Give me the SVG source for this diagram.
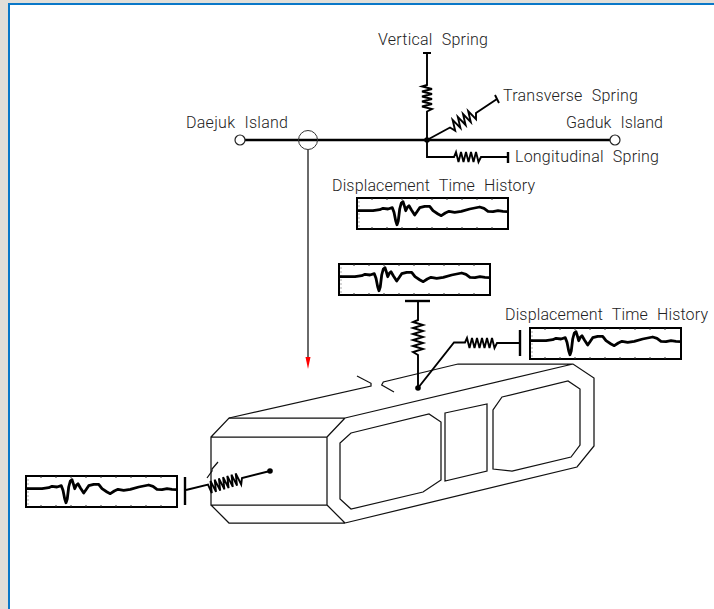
<svg xmlns="http://www.w3.org/2000/svg" width="714" height="609" viewBox="0 0 714 609">
<style>
text{font-family:"Roboto","Liberation Sans",Arial,sans-serif;font-size:16px;fill:#222;font-weight:300;word-spacing:5px}
.t{fill:none;stroke:#111;stroke-width:1.25;stroke-linejoin:miter}
.h{fill:none;stroke:#000;stroke-width:2.4;stroke-linejoin:miter}
.s{fill:none;stroke:#000;stroke-width:1.9;stroke-linejoin:miter}
.w{fill:none;stroke:#000;stroke-width:2.8;stroke-linejoin:round}
.o{fill:#fff;stroke:#222;stroke-width:1.2}
</style>
<defs>
<g id="plot">
<rect x="0" y="0" width="151" height="31" fill="#fff" stroke="#000" stroke-width="2"/>
<path d="M15,0v2M30,0v2M45,0v2M60,0v2M75,0v2M90,0v2M105,0v2M120,0v2M135,0v2M15,31v-2M30,31v-2M45,31v-2M60,31v-2M75,31v-2M90,31v-2M105,31v-2M120,31v-2M135,31v-2" stroke="#333" stroke-width="1" fill="none"/>
<path d="M1.500,4h1M1.500,8h1M1.500,12h1M1.500,16h1M1.500,20h1M1.500,24h1M1.500,28h1" stroke="#555" stroke-width="1" fill="none"/>
<path class="w" d="M0,12.700L16,12.700L22.700,11.700L26,10.300L31,11L35.300,9.700L37,14.300L38.700,22.700L40,26.700L41.300,22.700L42.700,11L44.300,5L46,3.700L47.300,7.700L48.700,12.700L50.300,9.300L52,7.700L54.300,11.700L57.700,17L60,13.700L62.700,9.700L67.700,8.300L72.700,8.300L76,12.700L81,16L84.300,17.700L88.300,15L92,13.300L97.700,14.300L104.300,13.300L112.700,11L122.700,9L127,10.300L131,13.300L136,13.700L141,12.700L146,13.300L151,13.700"/>
</g>
</defs>
<rect x="0" y="0" width="714" height="609" fill="#fff"/>
<rect x="0" y="0" width="8" height="609" fill="#e2dfd9"/>
<rect x="0" y="0" width="714" height="3" fill="#e2dfd9"/>
<rect x="8" y="3" width="2" height="606" fill="#0a78c8"/>
<rect x="8" y="3" width="706" height="2" fill="#0a78c8"/>

<g id="bridge-girder">
<path class="t" d="M211,437H327V505H211ZM211,437L229,418H345M327,437L345,418M211,505L229,523H345M327,505L345,523"/>
<path class="t" d="M229,418L371,386V383.300L357,376M394,392L381.700,385L383.300,382L458,364H573L594,378V446L577,467L345,523M573,364L345,418"/>
<path class="t" d="M351,433L429,414L441,422V480L423,492L351,509L340,499V443Z"/>
<path class="t" d="M445,413L487,404V471L445,481Z"/>
<path class="t" d="M502,397L568,381L580,389V445L571,457L512,471L493,469V410Z"/>
</g>

<g id="connectors">
<path class="h" d="M245,140H610"/>
<path class="t" d="M308,150V358"/>
<path d="M305.500,357H310.500L308,369Z" fill="#f00"/>
<path class="s" d="M423,53H431M427,53V85L422,86.500L432,89L422,91.500L432,94L422,96.500L432,99L422,101.500L432,104L422,106.500L432,109L427,111.500V140"/>
<path class="s" d="M427,140L450,127.500L455.200,130.800L452.600,119.800L460.400,127.900L457.800,116.900L465.600,125L463,114L470.800,122.100L468.200,111.100L476,119.200L476,113L497,99M495,95L499,103"/>
<path class="s" d="M427,140V157H454L456,152L458.500,162L461,152L463.500,162L466,152L468.500,162L471,152L473.500,162L476,152L478.500,162L481,157H508"/>
<path class="h" d="M508,152V163"/>
<path class="h" d="M405,301H430"/>
<path class="s" d="M418,301V320L413,322L423,325L413,328L423,331L413,334L423,337L413,340L423,343L413,346L423,349L413,352L418,355V388"/>
<path class="s" d="M418,388L454,342.500H465L467,338L469.500,348L472,338L474.500,348L477,338L479.500,348L482,338L484.500,348L487,338L489.500,348L492,338L494.500,348L497,343H520"/>
<path class="h" d="M520,330V356"/>
<path class="h" d="M185,477V505"/>
<path class="s" d="M186,490L208,484.500L211.800,493.200L210.500,480.900L216,491.900L214.700,479.700L220.200,490.700L218.900,478.400L224.400,489.400L223.100,477.200L228.600,488.100L227.300,475.900L232.800,486.900L231.500,474.600L237,485.600L235.700,473.400L241.200,484.400L242,478L270,471"/>
<path class="t" d="M207,478L212,471L212,469L218,462"/>
</g>

<g id="dots">
<circle cx="427" cy="140" r="2.800" fill="#000"/>
<circle cx="418" cy="388" r="2.800" fill="#000"/>
<circle cx="270" cy="471" r="2.800" fill="#000"/>
</g>

<g id="node-daejuk"><circle class="o" cx="240" cy="140" r="5"/><text x="186" y="128" textLength="102" lengthAdjust="spacing">Daejuk Island</text></g>
<g id="node-gaduk"><circle class="o" cx="615" cy="140" r="5"/><text x="566" y="128" textLength="97" lengthAdjust="spacing">Gaduk Island</text></g>
<g id="node-detail"><circle cx="308" cy="140" r="9.500" fill="none" stroke="#333" stroke-width="1"/></g>
<g id="label-vertical"><text x="378" y="45" textLength="110" lengthAdjust="spacing">Vertical Spring</text></g>
<g id="label-transverse"><text x="503" y="101" textLength="135" lengthAdjust="spacing">Transverse Spring</text></g>
<g id="label-longitudinal"><text x="515" y="162" textLength="144" lengthAdjust="spacing">Longitudinal Spring</text></g>
<g id="plot-1"><text x="332" y="191" textLength="203" lengthAdjust="spacing">Displacement Time History</text><use href="#plot" x="357" y="198"/></g>
<g id="plot-2"><use href="#plot" x="339" y="264"/></g>
<g id="plot-3"><text x="505" y="320" textLength="203" lengthAdjust="spacing">Displacement Time History</text><use href="#plot" x="530" y="328"/></g>
<g id="plot-4"><use href="#plot" x="26" y="476"/></g>
</svg>
